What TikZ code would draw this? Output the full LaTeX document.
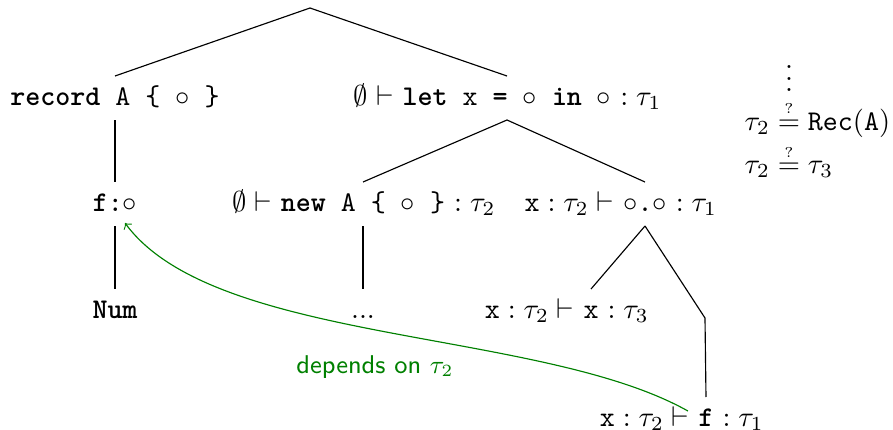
\documentclass[tikz,border=0pt]{standalone}
\usepackage{amsmath}
\definecolor{dep}{RGB}{0,128,0}
\newcommand{\qeq}{\mathrel{\overset{\smash{\scriptscriptstyle ?}}{=}}}
\tikzset{
  tn/.style={inner sep=0pt, minimum height=15pt, text height=1.6ex, text depth=.45ex},
  edge/.style={line width=0.4pt},
  depline/.style={dep, line width=0.4pt, ->},
}
\begin{document}
\begin{tikzpicture}[x=0.35pt,y=-0.35pt]
\useasboundingbox (0,0) rectangle (893,430);
\coordinate (root) at (310,8);
% level 1
\node[tn] (rec) at (115,98) {\texttt{\textbf{record} A \{ $\circ$ \}}};
\node[tn] (let) at (507,98) {\texttt{\textbf{let} x \textbf{=} $\circ$ \textbf{in} $\circ$}};
\node[tn,anchor=east] (letpre) at (let.west) {$\emptyset\vdash{}$};
\node[tn,anchor=west] (letsuf) at (let.east) {${}:\tau_1$};
% level 2
\node[tn] (f) at (115,204) {\texttt{\textbf{f}:}$\circ$};
\node[tn] (new) at (363,204) {\texttt{\textbf{new} A \{ $\circ$ \}}};
\node[tn,anchor=east] (newpre) at (new.west) {$\emptyset\vdash{}$};
\node[tn,anchor=west] (newsuf) at (new.east) {${}:\tau_2$};
\node[tn] (sel) at (645,204) {$\circ$\texttt{.}$\circ$};
\node[tn,anchor=east] (selpre) at (sel.west) {$\mathtt{x}:\tau_2\vdash{}$};
\node[tn,anchor=west] (selsuf) at (sel.east) {${}:\tau_1$};
% level 3
\node[tn] (num) at (115,311) {\texttt{\textbf{Num}}};
\node[tn] (dots) at (363,311) {...};
\node[tn] (var) at (591,311) {\texttt{x}};
\node[tn,anchor=east] (varpre) at (var.west) {$\mathtt{x}:\tau_2\vdash{}$};
\node[tn,anchor=west] (varsuf) at (var.east) {${}:\tau_3$};
\coordinate (kink) at (705,318);
% level 4
\node[tn] (fv) at (706,419) {\texttt{\textbf{f}}};
\node[tn,anchor=east] (fvpre) at (fv.west) {$\mathtt{x}:\tau_2\vdash{}$};
\node[tn,anchor=west] (fvsuf) at (fv.east) {${}:\tau_1$};
% edges
\draw[edge] (root) -- (rec.north);
\draw[edge] (root) -- (let.north);
\draw[edge] (rec.south) -- (f.north);
\draw[edge] (f.south) -- (num.north);
\draw[edge] (let.south) -- (new.north);
\draw[edge] (let.south) -- (sel.north);
\draw[edge] (new.south) -- (dots.north);
\draw[edge] (sel.south) -- (var.north);
\draw[edge] (sel.south) -- (kink) -- (fv.north);
% constraints
\node[inner sep=0pt] (vd) at (789,70) {$\vdots$};
\node[inner sep=0pt,anchor=west] (c1) at (744,123) {$\tau_2 \qeq \mathtt{Rec(A)}$};
\node[inner sep=0pt,anchor=west] (c2) at (744,166) {$\tau_2 \qeq \tau_3$};
% dependency
\draw[depline] ([shift={(-10,14)}]fvpre.north east) .. controls (540,328) and (215,345) .. ([shift={(10,-3)}]f.south);
\node[text=dep, font=\sffamily\small, inner sep=0pt] (lbl) at (375,367) {depends on $\tau_2$};
\end{tikzpicture}
\end{document}
